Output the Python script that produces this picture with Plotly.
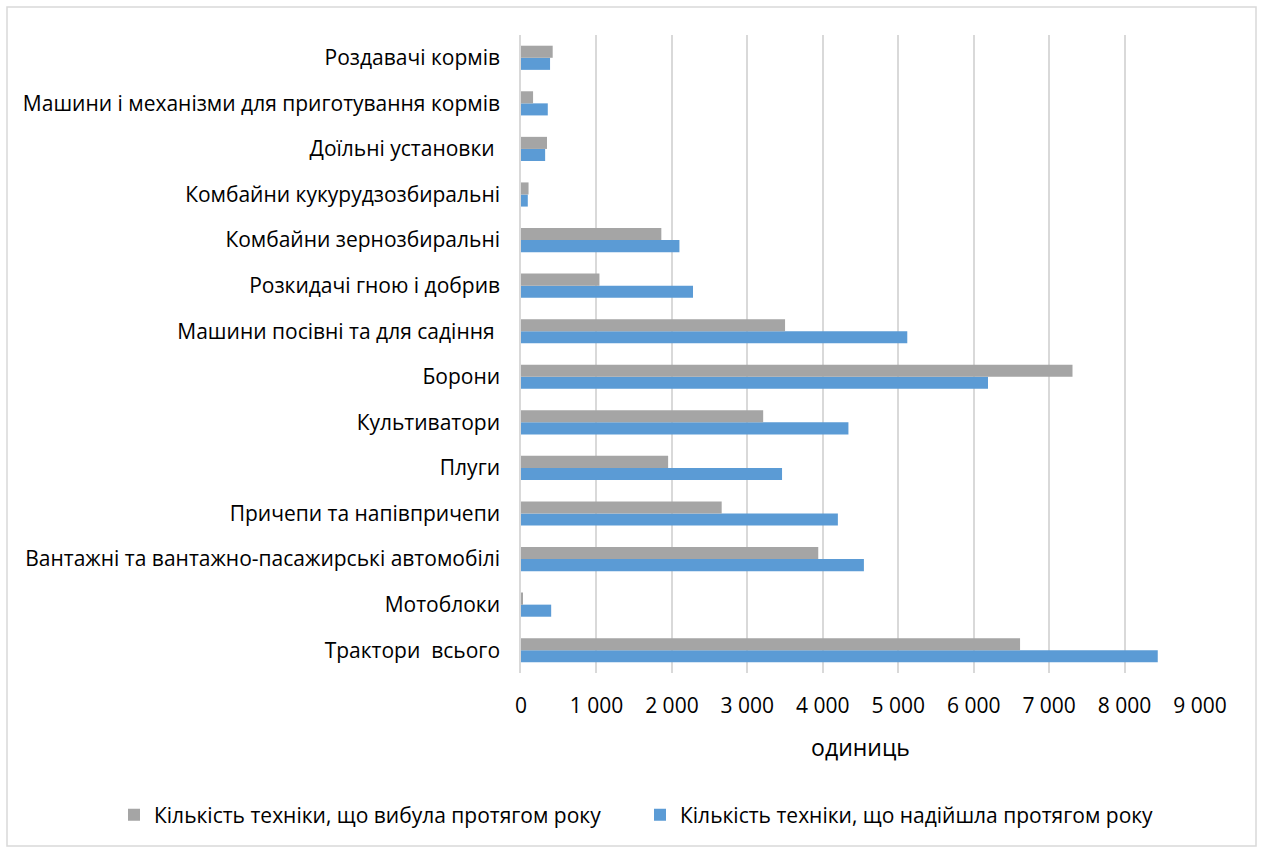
import plotly.graph_objects as go

categories = [
    "Трактори  всього",
    "Мотоблоки",
    "Вантажні та вантажно-пасажирські автомобілі",
    "Причепи та напівпричепи",
    "Плуги",
    "Культиватори",
    "Борони",
    "Машини посівні та для садіння ",
    "Розкидачі гною і добрив",
    "Комбайни зернозбиральні",
    "Комбайни кукурудзозбиральні",
    "Доїльні установки ",
    "Машини і механізми для приготування кормів",
    "Роздавачі кормів",
]
retired = [6615, 20, 3940, 2660, 1950, 3210, 7310, 3500, 1040, 1860, 100, 345, 160, 420]
received = [8440, 400, 4545, 4200, 3460, 4340, 6190, 5120, 2280, 2100, 90, 320, 355, 385]
tick_vals = [0, 1000, 2000, 3000, 4000, 5000, 6000, 7000, 8000, 9000]
tick_text = ["0", "1 000", "2 000", "3 000", "4 000", "5 000", "6 000", "7 000", "8 000", "9 000"]
name_retired = "Кількість техніки, що вибула протягом року"
name_received = "Кількість техніки, що надійшла протягом року"
x_title = "одиниць"

FONT = "Open Sans"
FS = 21
fig = go.Figure()
fig.add_trace(go.Bar(y=categories, x=received, name=name_received, orientation="h",
                     marker=dict(color="#5B9BD5", line=dict(width=0))))
fig.add_trace(go.Bar(y=categories, x=retired, name=name_retired, orientation="h",
                     marker=dict(color="#A5A5A5", line=dict(width=0))))

L, R, T, B = 521, 61, 35, 175
W, H = 1261, 848
pw, ph = W - L - R, H - T - B

def px(x):
    return (x - L) / pw

def py(y):
    return (H - B - y) / ph

fig.update_layout(
    width=W, height=H,
    margin=dict(l=L, r=R, t=T, b=B),
    paper_bgcolor="white", plot_bgcolor="white",
    barmode="group", bargap=0.47, bargroupgap=0,
    font=dict(family=FONT, size=FS, color="#000000"),
    showlegend=True,
    legend=dict(orientation="h", x=px(114), xanchor="left", y=py(815), yanchor="middle",
                traceorder="reversed", font=dict(size=FS), itemwidth=30,
                entrywidthmode="pixels", entrywidth=481),
    xaxis=dict(range=[0, 9000], tickvals=tick_vals, ticktext=tick_text,
               showgrid=True, gridcolor="#D9D9D9", gridwidth=1.5, zeroline=False,
               showline=False, ticks="outside", ticklen=14, tickcolor="rgba(0,0,0,0)",
               tickfont=dict(size=FS),
               title=dict(text=x_title, font=dict(size=23), standoff=21)),
    yaxis=dict(showgrid=False, zeroline=False, showline=True, linecolor="#D9D9D9", linewidth=1.5,
               ticks="outside", ticklen=15, tickcolor="rgba(0,0,0,0)", tickfont=dict(size=FS)),
    shapes=[dict(type="rect", xref="paper", yref="paper",
                 x0=px(7), x1=px(1256), y0=py(846), y1=py(7),
                 line=dict(color="#D9D9D9", width=1.5), fillcolor="rgba(0,0,0,0)", layer="below")],
)
fig.write_html("out.html", config={"displayModeBar": False},
               post_script="document.body.style.margin='0';")
